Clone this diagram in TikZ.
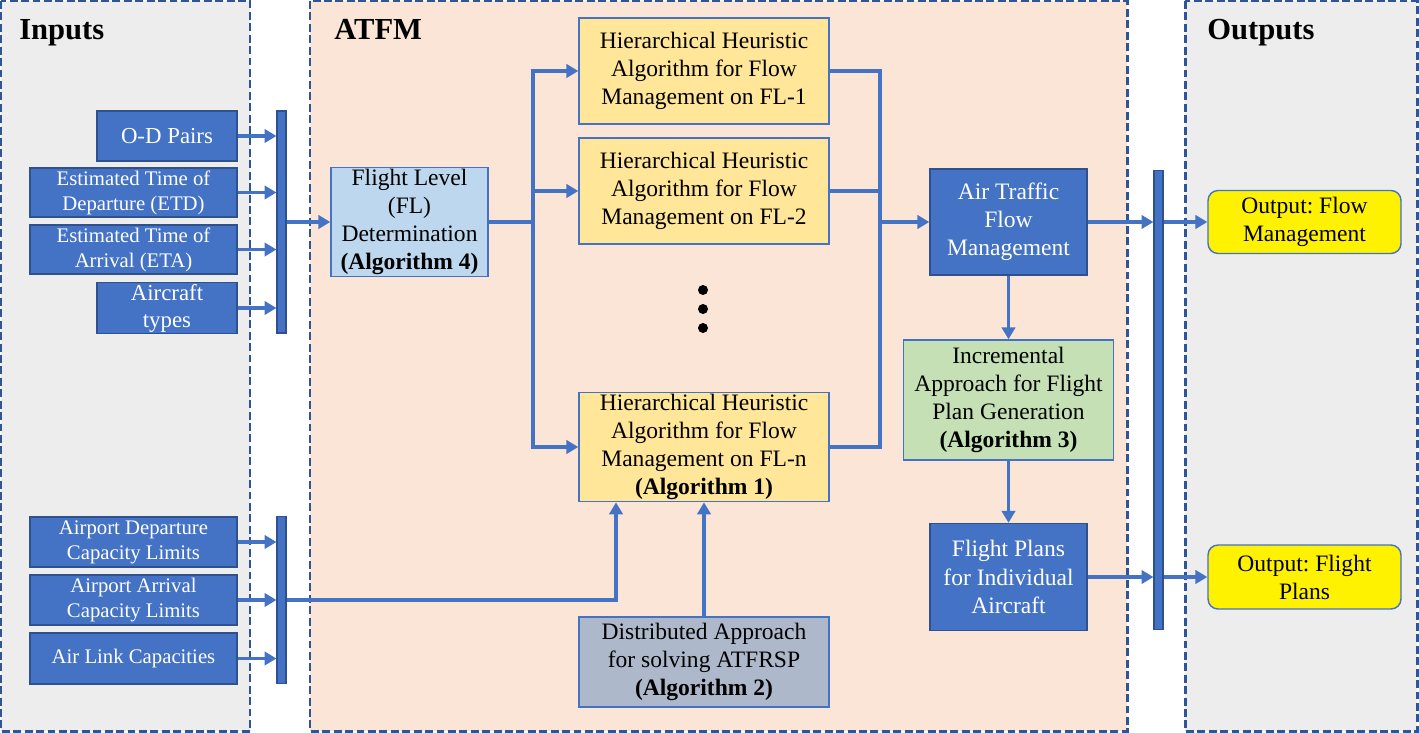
\documentclass[tikz,border=0pt]{standalone}
\usepackage{fontspec}
\setmainfont{Liberation Serif}
\usetikzlibrary{arrows.meta}
\definecolor{cblue}{HTML}{4472C4}
\definecolor{cdark}{HTML}{2F528F}
\definecolor{cdash}{HTML}{2F5597}
\definecolor{cgray}{HTML}{EDEDED}
\definecolor{cpeach}{HTML}{FBE5D6}
\definecolor{cfl}{HTML}{BDD7EE}
\definecolor{chh}{HTML}{FFE699}
\definecolor{cinc}{HTML}{C5E0B4}
\definecolor{cdist}{HTML}{ADB9CA}
\tikzset{
  panel/.style={draw=cdash, line width=1.7pt, dash pattern=on 4.5pt off 2pt},
  inbox/.style={draw=cdark, line width=0.6pt, fill=cblue, text=white, align=center, inner sep=1pt,
    font=\fontsize{11.8}{14.2}\selectfont},
  inboxL/.style={inbox, font=\fontsize{13}{15.4}\selectfont},
  bar/.style={draw=cdark, line width=0.6pt, fill=cblue, minimum width=0.18cm, inner sep=0pt},
  mbox/.style={draw=cblue, line width=0.8pt, align=center, inner sep=1pt,
    font=\fontsize{13.4}{16}\selectfont},
  darkbox/.style={mbox, draw=cdark, fill=cblue, text=white},
  title/.style={font=\fontsize{17.4}{20}\selectfont\bfseries, anchor=base west, inner sep=0pt},
  conn/.style={draw=cblue, line width=2.2pt},
  arr/.style={conn, -{Triangle[length=6.8pt,width=7.6pt]}},
  dotn/.style={circle, fill=black, minimum size=0.2cm, inner sep=0pt},
}
\begin{document}
\frenchspacing
\begin{tikzpicture}[x=0.02cm, y=-0.02cm]
\useasboundingbox (0,0) rectangle (1419,733);
% panels
\fill[cgray] (1,1) rectangle (250,731);
\fill[cpeach] (310,1) rectangle (1127,731);
\fill[cgray] (1185,1) rectangle (1417,731);
\draw[panel] (1,1) rectangle (250,731);
\draw[panel] (310,1) rectangle (1127,731);
\draw[panel] (1185,1) rectangle (1417,731);
\node[title] (tin) at (19,40) {Inputs};
\node[title] (tatfm) at (334,40) {ATFM};
\node[title] (tout) at (1207,40) {Outputs};
% inputs
\node[inboxL, minimum width=2.8cm, minimum height=1.0cm] (od) at (167,136) {O-D Pairs};
\node[inbox, minimum width=4.14cm, minimum height=0.98cm] (etd) at (133.5,192.5) {Estimated Time of\\Departure (ETD)};
\node[inbox, minimum width=4.14cm, minimum height=0.98cm] (eta) at (133.5,249.5) {Estimated Time of\\Arrival (ETA)};
\node[inboxL, minimum width=2.8cm, minimum height=1.0cm] (act) at (167,308) {Aircraft\\types};
\node[inbox, minimum width=4.14cm, minimum height=1.0cm] (apd) at (133.5,542) {Airport Departure\\Capacity Limits};
\node[inbox, minimum width=4.14cm, minimum height=1.0cm] (apa) at (133.5,600) {Airport Arrival\\Capacity Limits};
\node[inbox, minimum width=4.14cm, minimum height=1.02cm] (alc) at (133.5,658.5) {Air Link Capacities};
\node[bar, minimum height=4.44cm] (bar1) at (281.5,222) {};
\node[bar, minimum height=3.34cm] (bar2) at (281.5,600) {};
% ATFM
\node[mbox, fill=cfl, minimum width=3.14cm, minimum height=2.12cm] (fl) at (409.5,222) {Flight Level\\(FL)\\Determination\\\textbf{(Algorithm 4)}};
\node[mbox, fill=chh, minimum width=5.0cm, minimum height=2.12cm] (hh1) at (704,71) {Hierarchical Heuristic\\Algorithm for Flow\\Management on FL-1};
\node[mbox, fill=chh, minimum width=5.0cm, minimum height=2.12cm] (hh2) at (704,191) {Hierarchical Heuristic\\Algorithm for Flow\\Management on FL-2};
\node[mbox, fill=chh, minimum width=5.0cm, minimum height=2.12cm] (hhn) at (704,447) {Hierarchical Heuristic\\Algorithm for Flow\\Management on FL-n\\\textbf{(Algorithm 1)}};
\node[dotn] (d1) at (703,290) {};
\node[dotn] (d2) at (703,309) {};
\node[dotn] (d3) at (703,328) {};
\node[mbox, fill=cdist, minimum width=5.0cm, minimum height=1.8cm] (dist) at (704,662) {Distributed Approach\\for solving ATFRSP\\\textbf{(Algorithm 2)}};
\node[darkbox, minimum width=3.14cm, minimum height=2.12cm] (atf) at (1008.5,222) {Air Traffic\\Flow\\Management};
\node[mbox, fill=cinc, minimum width=4.2cm, minimum height=2.4cm] (inc) at (1008.5,400) {Incremental\\Approach for Flight\\Plan Generation\\\textbf{(Algorithm 3)}};
\node[darkbox, minimum width=3.14cm, minimum height=2.14cm] (fpa) at (1008.5,577) {Flight Plans\\for Individual\\Aircraft};
\node[bar, minimum height=9.2cm] (bar3) at (1158.5,400) {};
% outputs
\node[mbox, fill=yellow, rounded corners=0.2cm, minimum width=3.86cm, minimum height=1.26cm] (ofm) at (1304.5,222) {Output: Flow\\Management};
\node[mbox, fill=yellow, rounded corners=0.2cm, minimum width=3.86cm, minimum height=1.28cm] (ofp) at (1304.5,577) {Output: Flight\\Plans};
% coordinates
\coordinate (split) at (533,222);
\coordinate (merge) at (880,222);
\coordinate (b2) at (616,600);
% connectors: inputs to bars
\foreach \n in {od,etd,eta,act} \draw[arr] (\n.east) -- (\n.east -| bar1.west);
\foreach \n in {apd,apa,alc} \draw[arr] (\n.east) -- (\n.east -| bar2.west);
\draw[arr] (bar1.east |- fl.west) -- (fl.west);
% split
\draw[conn] (fl.east) -- (split);
\draw[arr] (split) |- (hh1.west);
\draw[arr] (split) |- (hh2.west);
\draw[arr] (split) |- (hhn.west);
% merge
\draw[conn] (hh1.east) -| (merge);
\draw[conn] (hh2.east) -| (merge);
\draw[conn] (hhn.east) -| (merge);
\draw[arr] (merge) -- (atf.west);
% vertical chain
\draw[arr] (atf.south) -- (inc.north);
\draw[arr] (inc.south) -- (fpa.north);
% outputs
\draw[arr] (atf.east) -- (atf.east -| bar3.west);
\draw[arr] (bar3.east |- ofm.west) -- (ofm.west);
\draw[arr] (fpa.east) -- (fpa.east -| bar3.west);
\draw[arr] (bar3.east |- ofp.west) -- (ofp.west);
% constraints
\draw[arr] (bar2.east |- b2) -- (b2) -- (b2 |- hhn.south);
\draw[arr] (dist.north) -- (hhn.south);
\end{tikzpicture}
\end{document}
